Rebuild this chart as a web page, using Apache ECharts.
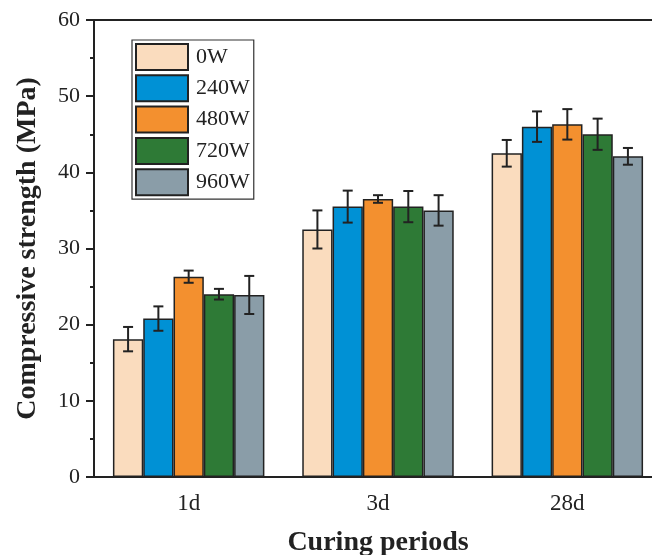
<!DOCTYPE html>
<html><head><meta charset="utf-8">
<script src="https://cdn.jsdelivr.net/npm/echarts@6/dist/echarts.min.js"></script>
<style>html,body{margin:0;padding:0;background:#fff}#c{width:652px;height:555px}</style>
</head><body><div id="c"></div>
<script>
var categories = ['1d', '3d', '28d'];
var seriesNames = ['0W', '240W', '480W', '720W', '960W'];
var colors = ['#FADCBE', '#0091D5', '#F3902F', '#2E7A36', '#8A9DA8'];
var s0W   = [18.1, 32.5, 42.5];
var s240W = [20.8, 35.5, 46.0];
var s480W = [26.3, 36.5, 46.3];
var s720W = [24.0, 35.5, 45.0];
var s960W = [23.9, 35.0, 42.1];
var e0W   = [1.6, 2.5, 1.75];
var e240W = [1.6, 2.1, 2.0];
var e480W = [0.8, 0.5, 2.0];
var e720W = [0.7, 2.05, 2.05];
var e960W = [2.5, 2.0, 1.1];
var yTicks = [0, 10, 20, 30, 40, 50, 60];

var values = [s0W, s240W, s480W, s720W, s960W];
var errors = [e0W, e240W, e480W, e720W, e960W];
var FONT = '"Liberation Serif", "Times New Roman", serif';
var chart = echarts.init(document.getElementById('c'));
var series = [];
var nS = seriesNames.length;
values.forEach(function (v, i) {
  series.push({
    name: seriesNames[i], type: 'bar', data: v,
    barGap: '0%', barCategoryGap: '20%',
    itemStyle: { color: colors[i], borderColor: '#222', borderWidth: 1.5 }
  });
});
values.forEach(function (v, i) {
  var d = v.map(function (val, j) { return [j, val - errors[i][j], val + errors[i][j]]; });
  series.push({
    type: 'custom', data: d, z: 10,
    renderItem: function (params, api) {
      var x = api.value(0);
      var lo = api.coord([x, api.value(1)]);
      var hi = api.coord([x, api.value(2)]);
      var cw = api.size([1, 0])[0];
      var bw = cw * 0.8 / nS;
      var cx = lo[0] - cw * 0.4 + (i + 0.5) * bw;
      var cap = 5;
      var st = { stroke: '#222', lineWidth: 2 };
      return { type: 'group', children: [
        { type: 'line', shape: { x1: cx, y1: lo[1], x2: cx, y2: hi[1] }, style: st },
        { type: 'line', shape: { x1: cx - cap, y1: lo[1], x2: cx + cap, y2: lo[1] }, style: st },
        { type: 'line', shape: { x1: cx - cap, y1: hi[1], x2: cx + cap, y2: hi[1] }, style: st }
      ]};
    }
  });
});
chart.setOption({
  animation: false,
  grid: { left: 94, top: 20, width: 568, height: 457, show: true, borderColor: '#222', borderWidth: 2, outerBoundsMode: 'none', containLabel: false },
  legend: {
    data: seriesNames, orient: 'vertical', left: 132, top: 40,
    itemWidth: 52, itemHeight: 26, itemGap: 3.3, padding: [3, 4, 3, 3],
    borderColor: '#333', borderWidth: 1.2,
    textStyle: { fontFamily: FONT, fontSize: 22, lineHeight: 26, color: '#222', padding: [0, 0, 0, 3] },
    icon: 'rect'
  },
  xAxis: [{
    type: 'category', data: categories, position: 'bottom',
    name: 'Curing periods', nameLocation: 'middle', nameGap: 52,
    nameTextStyle: { fontFamily: FONT, fontSize: 28, fontWeight: 'bold', color: '#222' },
    axisLine: { lineStyle: { color: '#222', width: 2 } },
    axisTick: { alignWithLabel: true, length: 7, lineStyle: { color: '#222', width: 2 } },
    axisLabel: { fontFamily: FONT, fontSize: 23, color: '#222', margin: 15 }
  }, {
    type: 'category', data: categories, position: 'bottom', gridIndex: 0,
    axisLine: { show: false },
    axisTick: { alignWithLabel: false, length: 3, lineStyle: { color: '#222', width: 2 } },
    axisLabel: { show: false }
  }],
  yAxis: {
    type: 'value', min: yTicks[0], max: yTicks[yTicks.length - 1], interval: 10,
    name: 'Compressive strength (MPa)', nameLocation: 'middle', nameGap: 52,
    nameTextStyle: { fontFamily: FONT, fontSize: 28, fontWeight: 'bold', color: '#222' },
    axisLine: { show: true, lineStyle: { color: '#222', width: 2 } },
    axisTick: { show: true, length: 8, lineStyle: { color: '#222', width: 2 } },
    minorTick: { show: true, splitNumber: 2, length: 4, lineStyle: { color: '#222', width: 2 } },
    splitLine: { show: false },
    axisLabel: { fontFamily: FONT, fontSize: 22, color: '#222', margin: 14 }
  },
  series: series
});
</script></body></html>
